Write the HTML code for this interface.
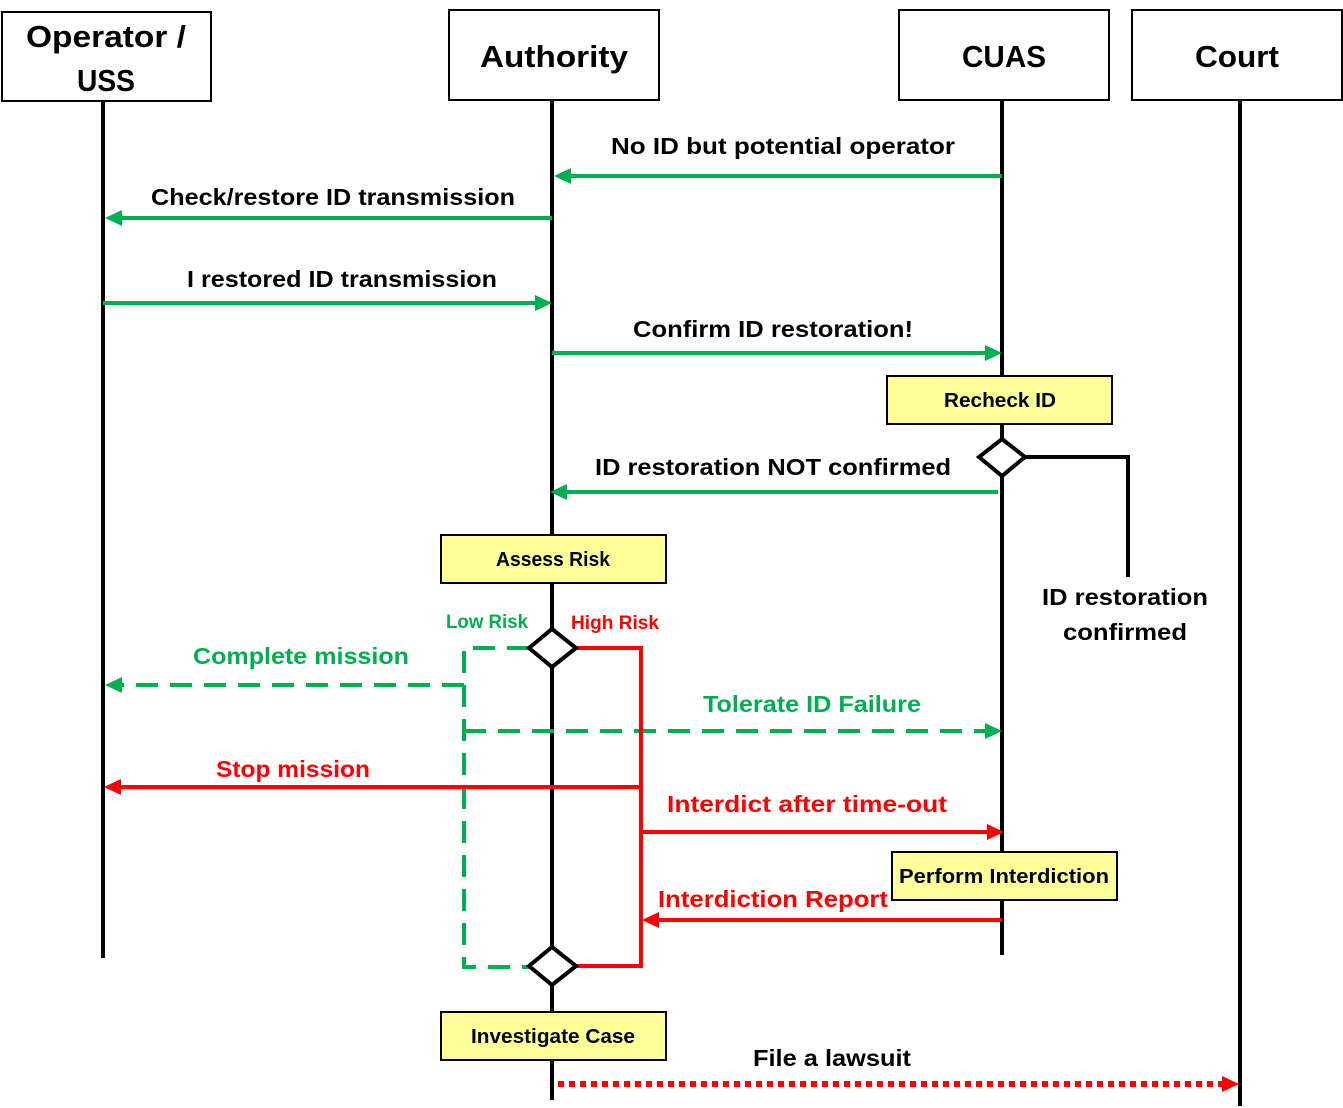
<!DOCTYPE html>
<html><head><meta charset="utf-8"><style>
html,body{margin:0;padding:0;background:#fff}
svg{display:block}
text{font-family:"Liberation Sans",sans-serif;font-weight:bold}
</style></head><body>
<svg width="1343" height="1108" viewBox="0 0 1343 1108" xmlns="http://www.w3.org/2000/svg">
<!-- lifelines -->
<g stroke="#000" stroke-width="4">
<line x1="103" y1="101" x2="103" y2="958"/>
<line x1="552" y1="100" x2="552" y2="1100"/>
<line x1="1002" y1="100" x2="1002" y2="955"/>
<line x1="1240" y1="100" x2="1240" y2="1106"/>
</g>
<!-- headers -->
<g fill="#fff" stroke="#000" stroke-width="2">
<rect x="2" y="12" width="209" height="89"/>
<rect x="449" y="10" width="210" height="90"/>
<rect x="899" y="10" width="210" height="90"/>
<rect x="1132" y="10" width="210" height="90"/>
</g>
<g font-size="31" text-anchor="middle" fill="#000">
<text x="106" y="47" textLength="160" lengthAdjust="spacingAndGlyphs">Operator /</text>
<text x="106" y="91" textLength="58" lengthAdjust="spacingAndGlyphs">USS</text>
<text x="554" y="67" textLength="148" lengthAdjust="spacingAndGlyphs">Authority</text>
<text x="1004" y="67" textLength="84" lengthAdjust="spacingAndGlyphs">CUAS</text>
<text x="1237" y="67" textLength="84" lengthAdjust="spacingAndGlyphs">Court</text>
</g>
<!-- green solid arrows -->
<g stroke="#00B050" stroke-width="4" fill="none">
<line x1="1002" y1="176" x2="570" y2="176"/>
<line x1="552" y1="218" x2="120" y2="218"/>
<line x1="103" y1="303" x2="535" y2="303"/>
<line x1="552" y1="353" x2="985" y2="353"/>
<line x1="998" y1="492" x2="566" y2="492"/>
</g>
<g fill="#00B050">
<polygon points="554,176 571,168 571,184"/>
<polygon points="105,218 122,210 122,226"/>
<polygon points="552,303 535,295 535,311"/>
<polygon points="1002,353 985,345 985,361"/>
<polygon points="550,492 567,484 567,500"/>
</g>
<g font-size="23" text-anchor="middle" fill="#000">
<text x="783" y="154" textLength="344" lengthAdjust="spacingAndGlyphs">No ID but potential operator</text>
<text x="333" y="205" textLength="364" lengthAdjust="spacingAndGlyphs">Check/restore ID transmission</text>
<text x="342" y="287" textLength="310" lengthAdjust="spacingAndGlyphs">I restored ID transmission</text>
<text x="773" y="337" textLength="280" lengthAdjust="spacingAndGlyphs">Confirm ID restoration!</text>
<text x="773" y="475" textLength="356" lengthAdjust="spacingAndGlyphs">ID restoration NOT confirmed</text>
<text x="1125" y="605" textLength="166" lengthAdjust="spacingAndGlyphs">ID restoration</text>
<text x="1125" y="640" textLength="124" lengthAdjust="spacingAndGlyphs">confirmed</text>
</g>
<!-- yellow boxes -->
<g fill="#FFFF99" stroke="#000" stroke-width="2">
<rect x="887" y="376" width="225" height="48"/>
<rect x="441" y="535" width="225" height="48"/>
<rect x="892" y="852" width="225" height="48"/>
<rect x="441" y="1012" width="225" height="48"/>
</g>
<g font-size="20" text-anchor="middle" fill="#000">
<text x="1000" y="407" textLength="112" lengthAdjust="spacingAndGlyphs">Recheck ID</text>
<text x="553" y="566" textLength="114" lengthAdjust="spacingAndGlyphs">Assess Risk</text>
<text x="1004" y="883" textLength="210" lengthAdjust="spacingAndGlyphs">Perform Interdiction</text>
<text x="553" y="1043" textLength="164" lengthAdjust="spacingAndGlyphs">Investigate Case</text>
</g>
<!-- recheck diamond branch -->
<polyline points="1026,457 1128,457 1128,577" fill="none" stroke="#000" stroke-width="4"/>
<polygon points="1002,439 1025,457 1002,476 979,457" fill="#fff" stroke="#000" stroke-width="4"/>
<!-- green dashed -->
<g stroke="#00B050" stroke-width="4" fill="none" stroke-dasharray="22,12">
<polyline points="529,648 464,648 464,967 529,967"/>
<line x1="464" y1="685" x2="120" y2="685"/>
<line x1="464" y1="731" x2="985" y2="731"/>
</g>
<polygon points="105,685 122,677 122,693" fill="#00B050"/>
<polygon points="1002,731 985,723 985,739" fill="#00B050"/>
<!-- red -->
<g stroke="#FF0000" stroke-width="4" fill="none">
<polyline points="576,648 641,648 641,966 576,966"/>
<line x1="641" y1="787" x2="120" y2="787"/>
<line x1="641" y1="832" x2="987" y2="832"/>
<line x1="1002" y1="920" x2="658" y2="920"/>
</g>
<g fill="#FF0000">
<polygon points="104,787 121,779 121,795"/>
<polygon points="1004,832 987,824 987,840"/>
<polygon points="642,920 659,912 659,928"/>
<polygon points="1239,1084 1222,1076 1222,1092"/>
</g>
<line x1="558" y1="1084" x2="1222" y2="1084" stroke="#FF0000" stroke-width="6" stroke-dasharray="6,5"/>
<!-- diamonds -->
<polygon points="552,629 576,648 552,667 529,648" fill="#fff" stroke="#000" stroke-width="4"/>
<polygon points="552,947 576,966 552,985 529,966" fill="#fff" stroke="#000" stroke-width="4"/>
<!-- colored labels -->
<g font-size="19">
<text x="487" y="628" text-anchor="middle" fill="#00B050" textLength="82" lengthAdjust="spacingAndGlyphs">Low Risk</text>
<text x="615" y="629" text-anchor="middle" fill="#FF0000" textLength="88" lengthAdjust="spacingAndGlyphs">High Risk</text>
</g>
<g font-size="23" text-anchor="middle">
<text x="301" y="664" fill="#00B050" textLength="216" lengthAdjust="spacingAndGlyphs">Complete mission</text>
<text x="812" y="712" fill="#00B050" textLength="218" lengthAdjust="spacingAndGlyphs">Tolerate ID Failure</text>
<text x="293" y="777" fill="#FF0000" textLength="154" lengthAdjust="spacingAndGlyphs">Stop mission</text>
<text x="807" y="812" fill="#FF0000" textLength="280" lengthAdjust="spacingAndGlyphs">Interdict after time-out</text>
<text x="773" y="907" fill="#FF0000" textLength="230" lengthAdjust="spacingAndGlyphs">Interdiction Report</text>
<text x="832" y="1066" fill="#000" textLength="158" lengthAdjust="spacingAndGlyphs">File a lawsuit</text>
</g>
</svg>
</body></html>
